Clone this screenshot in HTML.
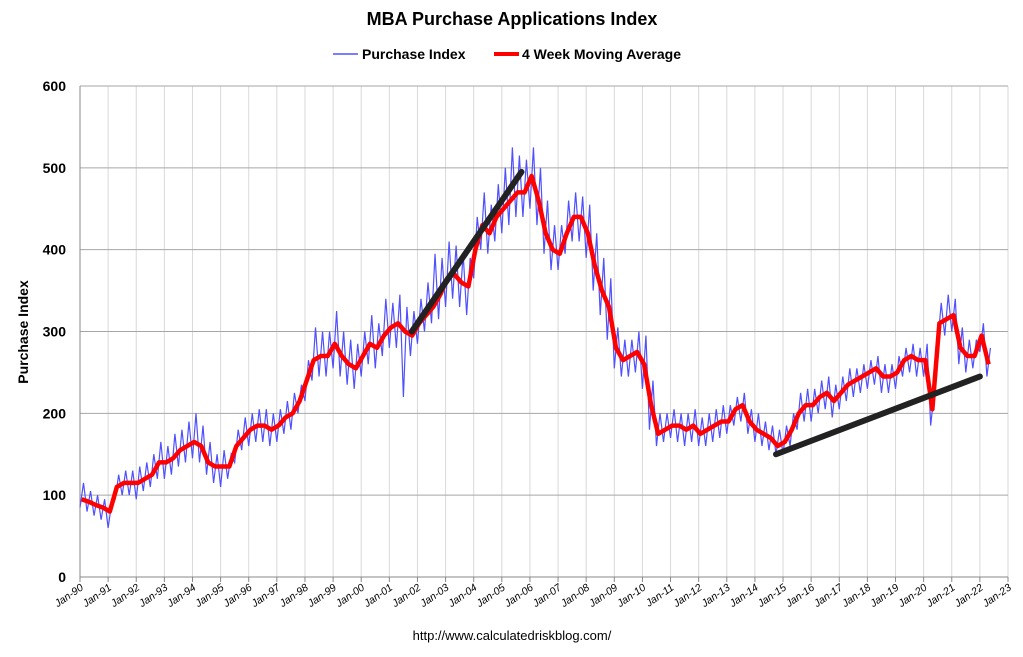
<!DOCTYPE html>
<html><head><meta charset="utf-8"><style>
body{margin:0;background:#fff;font-family:"Liberation Sans",Arial,sans-serif}
svg text{font-family:"Liberation Sans",Arial,sans-serif}
</style></head><body>
<svg id="c" width="1023" height="652">
<text x="512" y="25" text-anchor="middle" font-size="18" font-weight="bold">MBA Purchase Applications Index</text>
<g>
<line x1="333" y1="54" x2="358" y2="54" stroke="#5050ff" stroke-width="1.5"/>
<text x="362" y="59" font-size="14" font-weight="bold">Purchase Index</text>
<line x1="494" y1="54" x2="519" y2="54" stroke="#ff0000" stroke-width="4"/>
<text x="522" y="59" font-size="14" font-weight="bold">4 Week Moving Average</text>
</g>
<text transform="translate(28,332) rotate(-90)" text-anchor="middle" font-size="14" font-weight="bold">Purchase Index</text>
<text x="512" y="640" text-anchor="middle" font-size="13">http://www.calculatedriskblog.com/</text>
<g id="grid"></g><g id="series"></g>
</svg>
<script>
const yTicks=[0,100,200,300,400,500,600];
const xYears=[];for(let y=1990;y<=2023;y++)xYears.push(y);
const startYear=1990;
const ma=[95,92,88,85,80,110,115,115,115,120,125,140,140,145,155,160,165,160,140,135,135,135,160,170,180,185,185,180,185,195,200,215,240,265,270,270,285,270,260,255,270,285,280,295,305,310,300,295,310,320,330,345,365,370,360,355,400,430,420,440,450,460,470,470,490,460,420,400,395,420,440,440,420,380,350,330,280,265,270,275,260,210,175,180,185,185,180,185,175,180,185,190,190,205,210,190,180,175,170,160,165,180,200,210,210,220,225,215,225,235,240,245,250,255,245,245,250,265,270,265,265,205,310,315,320,280,270,270,295,260];
const blueHi=[115,105,100,95,90,125,130,130,135,140,150,165,160,175,180,190,200,185,165,150,155,150,180,195,200,205,205,200,205,215,225,235,265,305,300,300,325,300,290,285,300,320,310,340,335,345,330,325,340,360,395,390,410,405,395,390,440,470,455,480,500,525,515,510,525,500,460,430,430,460,470,465,455,420,390,365,305,290,290,300,295,240,200,200,205,200,200,205,195,200,205,210,210,220,225,205,200,190,185,180,185,200,225,230,230,240,245,235,245,255,255,260,265,270,260,260,270,280,285,280,285,225,335,345,340,305,290,290,310,280];
const blueLo=[85,80,75,70,60,95,100,100,95,105,110,120,120,125,135,140,145,140,125,115,110,120,140,155,160,165,165,160,165,175,180,200,215,240,245,245,255,245,235,230,245,260,255,270,280,280,220,270,285,300,310,315,330,340,330,320,365,400,395,410,420,430,440,440,450,430,395,375,375,395,410,410,390,350,320,290,255,245,245,250,230,180,160,165,170,165,160,165,160,160,165,170,175,185,190,175,165,160,155,150,150,160,180,190,190,200,205,195,205,215,220,225,230,235,225,225,230,245,250,245,245,185,285,295,300,260,250,255,275,245];
const trend1=[[2001.8,300],[2005.7,495]];
const trend2=[[2014.75,150],[2022.0,245]];
const X0=80,X1=1008,Y0=577,Y1=86;
const xs=yr=>X0+(yr-startYear)/33*(X1-X0);
const ys=v=>Y0-v/600*(Y0-Y1);
const NS="http://www.w3.org/2000/svg";
const grid=document.getElementById('grid'),ser=document.getElementById('series');
function mk(tag,attrs,parent){const e=document.createElementNS(NS,tag);for(const k in attrs)e.setAttribute(k,attrs[k]);parent.appendChild(e);return e;}
xYears.forEach((yr,i)=>{
 const x=xs(yr);
 if(i>0){const l=mk('line',{x1:x,y1:Y1,x2:x,y2:Y0,stroke:'#d9d9d9'},grid);
 
 }
 const tk=mk('line',{x1:x,y1:Y0,x2:x,y2:Y0+5,stroke:'#888'},grid);
 
 
 const t=mk('text',{x:x+4,y:Y0+12,'font-size':10.5,'font-style':'italic','text-anchor':'end',transform:`rotate(-35 ${x+4} ${Y0+12})`},grid);
 t.textContent='Jan-'+String(yr%100).padStart(2,'0');
 
 
});
yTicks.forEach(v=>{
 const y=ys(v);
 const l=mk('line',{x1:X0,y1:y,x2:X1,y2:y,stroke:v===0?'#888':'#a6a6a6'},grid);
 
 
 const t=mk('text',{x:66,y:y+5,'font-size':14,'font-weight':'bold','text-anchor':'end'},grid);
 t.textContent=v;
 
 
});
mk('line',{x1:X0,y1:Y1,x2:X0,y2:Y0,stroke:'#888'},grid);
let bp=[];
blueHi.forEach((h,i)=>{const yr=startYear+i*0.25;bp.push([xs(yr),ys(blueLo[i])]);bp.push([xs(yr+0.125),ys(h)]);});
const b=mk('polyline',{points:bp.map(p=>p.join(',')).join(' '),fill:'none',stroke:'#5050ff','stroke-width':1.2},ser);


const r=mk('polyline',{points:ma.map((v,i)=>xs(startYear+i*0.25+0.06)+','+ys(v)).join(' '),fill:'none',stroke:'#ff0000','stroke-width':4.5,'stroke-linejoin':'round'},ser);


[trend1,trend2].forEach(tr=>{
 const l=mk('line',{x1:xs(tr[0][0]),y1:ys(tr[0][1]),x2:xs(tr[1][0]),y2:ys(tr[1][1]),stroke:'#222','stroke-width':6,'stroke-linecap':'round'},ser);
 
 
});
</script>
</body></html>
